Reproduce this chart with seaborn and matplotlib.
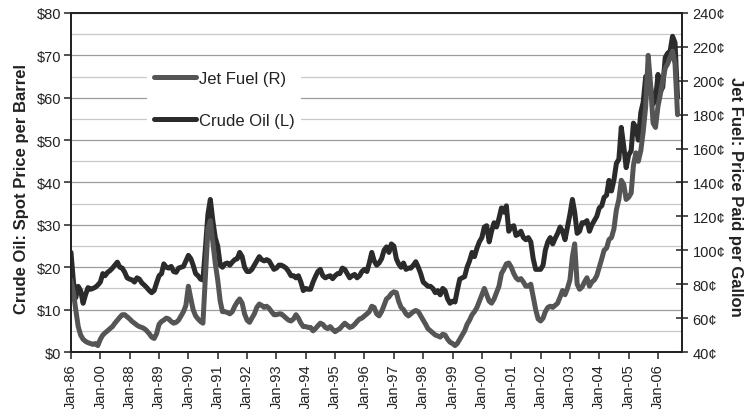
import pandas as pd
import numpy as np
import seaborn as sns
import matplotlib.pyplot as plt
from matplotlib.ticker import MultipleLocator

# monthly values, Jan-1986 .. Sep-2006, one row per year
crude_oil = [
    23.5, 16.5, 12.8, 15.5, 14.5, 11.5, 13.5, 15.2, 14.8, 15.0, 15.3, 15.8,  # 1986
    16.5, 18.5, 18.0, 18.8, 19.2, 19.8, 20.5, 21.2, 20.0, 19.8, 18.8, 17.5,  # 1987
    17.2, 17.0, 16.5, 17.5, 17.2, 16.3, 15.8, 15.2, 14.5, 14.0, 14.5, 16.3,  # 1988
    18.0, 18.5, 20.8, 20.0, 19.8, 20.2, 19.0, 18.8, 19.8, 20.0, 20.2, 21.5,  # 1989
    22.8, 22.0, 20.5, 18.5, 18.0, 17.2, 17.0, 24.5, 32.5, 36.0, 31.0, 27.0,  # 1990
    25.0, 20.5, 20.0, 20.8, 21.0, 20.5, 21.2, 21.8, 22.0, 23.5, 22.5, 20.0,  # 1991
    19.0, 19.0, 19.5, 20.5, 21.5, 22.5, 21.8, 21.5, 21.8, 21.5, 20.5, 19.5,  # 1992
    19.8, 20.5, 20.5, 20.2, 19.8, 19.0, 18.0, 18.0, 17.5, 18.0, 16.5, 14.5,  # 1993
    15.0, 14.8, 14.8, 16.5, 17.8, 19.0, 19.5, 18.0, 17.5, 17.8, 18.0, 17.3,  # 1994
    18.0, 18.5, 18.5, 19.8, 19.5, 18.5, 17.5, 18.0, 18.3, 17.5, 18.0, 19.0,  # 1995
    19.5, 19.0, 21.0, 23.5, 21.5, 20.5, 21.0, 22.0, 24.0, 24.8, 23.5, 25.5,  # 1996
    25.0, 22.0, 20.8, 20.0, 21.0, 19.5, 19.8, 19.8, 20.5, 21.3, 20.0, 18.5,  # 1997
    16.5, 16.0, 15.5, 15.5, 15.0, 14.0, 14.5, 13.5, 15.0, 14.5, 12.5, 11.5,  # 1998
    12.0, 11.8, 14.5, 17.2, 17.5, 17.8, 20.0, 21.5, 23.5, 22.5, 24.5, 26.0,  # 1999
    27.0, 29.5, 29.8, 26.0, 28.5, 30.5, 29.5, 31.5, 34.0, 33.0, 34.5, 28.5,  # 2000
    29.5, 29.8, 27.5, 27.8, 28.5, 27.0, 26.5, 27.0, 26.0, 22.0, 19.5, 19.5,  # 2001
    19.5, 20.5, 24.0, 26.0, 27.0, 25.5, 26.8, 28.0, 29.5, 28.5, 26.5, 29.5,  # 2002
    32.5, 36.0, 33.0, 28.0, 28.5, 30.5, 30.5, 31.0, 28.5, 30.0, 31.0, 32.0,  # 2003
    34.0, 34.5, 36.5, 37.0, 40.5, 38.0, 40.5, 44.5, 45.5, 53.0, 48.5, 43.5,  # 2004
    46.5, 47.5, 54.0, 53.0, 50.0, 56.5, 59.0, 65.0, 65.5, 62.5, 58.5, 59.5,  # 2005
    65.5, 61.5, 62.5, 69.5, 70.5, 71.0, 74.5, 73.0, 60.0,                    # 2006
]

jet_fuel = [
    82.5, 75.0, 65.0, 55.0, 50.0, 47.5, 46.3, 45.5, 45.0, 44.5, 45.0, 43.8,  # 1986
    47.5, 50.0, 51.3, 52.5, 53.8, 55.0, 57.0, 58.8, 60.5, 62.0, 62.0, 60.8,  # 1987
    59.5, 58.0, 57.0, 55.8, 55.0, 54.5, 53.8, 52.5, 50.8, 48.8, 48.0, 50.8,  # 1988
    56.3, 58.0, 58.8, 60.0, 59.5, 58.0, 57.0, 57.5, 58.8, 61.3, 63.8, 67.5,  # 1989
    78.8, 71.3, 65.0, 61.3, 59.5, 58.0, 57.0, 85.0, 112.5, 117.5, 105.0, 92.5,  # 1990
    82.5, 70.0, 63.8, 63.8, 63.3, 62.5, 63.8, 67.0, 69.5, 71.3, 68.8, 62.5,  # 1991
    58.8, 57.5, 60.0, 62.5, 66.3, 68.3, 67.5, 66.3, 67.0, 65.8, 63.8, 62.0,  # 1992
    62.0, 62.5, 62.5, 61.3, 60.0, 58.8, 58.3, 59.5, 62.0, 60.0, 57.0, 55.0,  # 1993
    55.0, 54.5, 54.5, 52.5, 53.8, 55.5, 57.0, 56.3, 54.5, 53.8, 55.0, 53.3,  # 1994
    52.0, 53.0, 53.8, 55.5, 57.0, 55.8, 54.5, 55.0, 56.3, 58.0, 59.5, 60.0,  # 1995
    61.3, 62.5, 63.8, 67.0, 66.3, 62.5, 61.3, 63.8, 67.5, 71.3, 72.5, 74.5,  # 1996
    75.5, 75.0, 70.0, 66.3, 65.0, 62.5, 61.3, 62.5, 63.8, 64.5, 63.8, 61.3,  # 1997
    58.8, 56.3, 53.8, 52.5, 51.3, 50.0, 49.5, 48.8, 50.5, 50.0, 47.5, 45.8,  # 1998
    45.0, 43.8, 45.0, 47.5, 50.0, 52.5, 56.3, 58.8, 62.0, 63.8, 66.3, 70.0,  # 1999
    73.8, 77.5, 73.8, 70.0, 68.8, 71.3, 75.0, 78.8, 86.3, 88.8, 92.0, 92.5,  # 2000
    90.0, 86.3, 83.8, 82.5, 83.3, 81.3, 78.8, 78.8, 80.0, 72.5, 65.0, 59.5,  # 2001
    58.3, 60.0, 63.8, 66.3, 67.0, 66.3, 67.5, 68.8, 72.5, 76.3, 73.8, 77.5,  # 2002
    82.5, 96.3, 103.8, 80.0, 77.0, 78.3, 81.3, 83.8, 78.8, 81.3, 82.5, 85.0,  # 2003
    90.0, 95.0, 100.0, 101.3, 106.3, 107.5, 112.5, 123.8, 130.0, 141.3, 138.8, 130.0,  # 2004
    131.3, 133.8, 150.0, 157.5, 152.5, 158.8, 170.0, 185.0, 215.0, 197.5, 175.0, 172.5,  # 2005
    185.0, 192.5, 200.0, 207.5, 210.0, 213.8, 217.5, 210.0, 180.0,                       # 2006
]

year_labels = ['Jan-86', 'Jan-00', 'Jan-88', 'Jan-89', 'Jan-90', 'Jan-91', 'Jan-92',
               'Jan-93', 'Jan-94', 'Jan-95', 'Jan-96', 'Jan-97', 'Jan-98', 'Jan-99',
               'Jan-00', 'Jan-01', 'Jan-02', 'Jan-03', 'Jan-04', 'Jan-05', 'Jan-06']
crude_ticks = list(range(0, 81, 10))
jet_ticks = list(range(40, 241, 20))

sns.set_style('ticks')
plt.rcParams['font.family'] = ['Liberation Sans', 'DejaVu Sans']

df = pd.DataFrame({
    'month': pd.date_range('1986-01-01', periods=len(crude_oil), freq='MS'),
    'crude': crude_oil,
    'jet': jet_fuel,
})

fig = plt.figure(figsize=(7.48, 4.10), dpi=100)
ax = fig.add_axes([0.0949, 0.139, 0.8169, 0.8269])

sns.lineplot(data=df, x='month', y='crude', ax=ax, color='#2b2b2b', lw=3.6, legend=False)
ax2 = ax.twinx()
sns.lineplot(data=df, x='month', y='jet', ax=ax2, color='#555555', lw=3.6, legend=False)

ax.set_xlim(pd.Timestamp('1986-01-01'), pd.Timestamp('2006-10-27'))
ticks = pd.date_range('1986-01-01', '2006-01-01', freq='YS')
ax.set_xticks(ticks)
ax.set_xticklabels(year_labels, rotation=90, fontsize=10.5, color='#222222')

ax.set_ylim(0, 80)
ax.set_yticks(crude_ticks)
ax.set_yticklabels(['$%d' % v for v in crude_ticks], fontsize=10.5, color='#222222')
ax.yaxis.set_minor_locator(MultipleLocator(5))
ax.grid(axis='y', which='major', color='#9c9c9c', lw=0.9)
ax.grid(axis='y', which='minor', color='#c8c8c8', lw=0.9)
ax.set_axisbelow(True)

ax2.set_ylim(40, 240)
ax2.set_yticks(jet_ticks)
ax2.set_yticklabels(['%d\u00a2' % v for v in jet_ticks], fontsize=10.5, color='#222222')

ax.tick_params(axis='x', direction='out', length=5, width=1.1, color='#222222', pad=3)
ax.tick_params(axis='y', which='major', direction='out', length=5, width=1.1, color='#222222', pad=2)
ax.tick_params(axis='y', which='minor', length=0)
ax2.tick_params(axis='y', direction='inout', length=9, width=1.1, color='#222222', pad=3)

for a in (ax, ax2):
    for s in a.spines.values():
        s.set_visible(True)
        s.set_color('#222222')
        s.set_linewidth(1.3)

ax.set_xlabel('')
ax.set_ylabel('')
ax2.set_ylabel('')
fig.text(22 / 748, 1 - 189 / 410, 'Crude Oil: Spot Price per Barrel', rotation=90,
         ha='center', va='center', fontsize=12, fontweight='bold', color='#222222')
fig.text(736 / 748, 1 - 197 / 410, 'Jet Fuel: Price Paid per Gallon', rotation=270,
         ha='center', va='center', fontsize=12, fontweight='bold', color='#222222')

crude_line = ax.get_lines()[0]
jet_line = ax2.get_lines()[0]
leg = ax2.legend(handles=[jet_line, crude_line], labels=['Jet Fuel (R)', 'Crude Oil (L)'],
                 loc='upper left', bbox_to_anchor=(0.125, 0.848), borderaxespad=0,
                 frameon=True, facecolor='white', edgecolor='none', framealpha=1,
                 fancybox=False, fontsize=12, handlelength=2.5, handletextpad=0.2,
                 labelspacing=1.6, borderpad=0.4)
for t in leg.get_texts():
    t.set_color('#222222')

fig.savefig('out.png', dpi=100)
